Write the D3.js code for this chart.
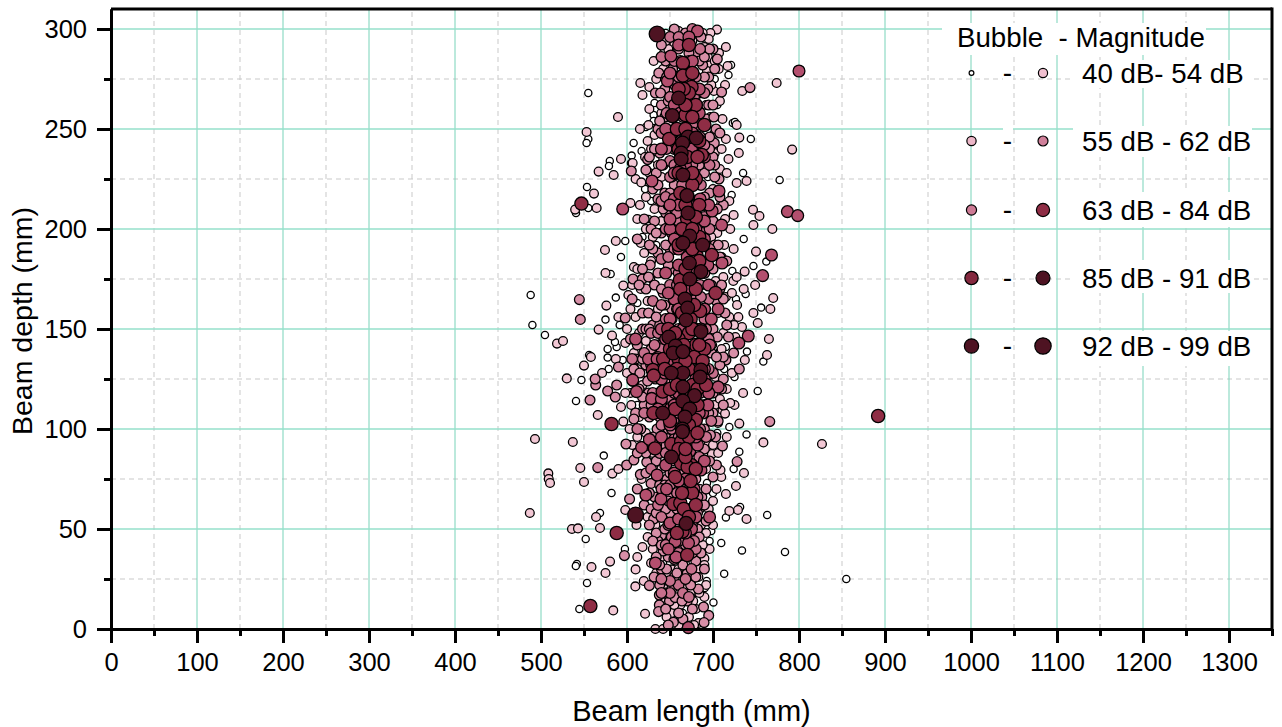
<!DOCTYPE html>
<html><head><meta charset="utf-8">
<script src="https://cdn.jsdelivr.net/npm/d3@7"></script>
<style>html,body{margin:0;padding:0;background:#fff}svg{display:block}text{font-family:"Liberation Sans",Arial,sans-serif;fill:#000;white-space:pre}</style>
</head><body><svg id="c" width="1282" height="727"></svg>
<script>
const xMajorTicks=[0,100,200,300,400,500,600,700,800,900,1000,1100,1200,1300];
const xMinorTicks=[50,150,250,350,450,550,650,750,850,950,1050,1150,1250,1350];
const yMajorTicks=[0,50,100,150,200,250,300];
const yMinorTicks=[25,75,125,175,225,275];
const xTitle="Beam length (mm)", yTitle="Beam depth (mm)";
const legendTitle="Bubble  - Magnitude";
const legendLabels=["40 dB- 54 dB","55 dB - 62 dB","63 dB - 84 dB","85 dB - 91 dB","92 dB - 99 dB"];
const legendFrom=[40,55,63,85,92];
const legendTo=[54,62,84,91,99];

const db44=[[555,268],[555,245],[553,243],[607.7,243],[617,239],[622,251],[631,257],[631,254],[721,282],[718,277],[723,253],[725.5,253.5],[744,245],[735,228],[777.5,224.5],[721.7,217],[580,234],[579,231.5],[553.5,221],[540.7,208],[555,210.5],[605.4,236.7],[604.6,233],[621,220],[488,167],[490,152],[504.6,147],[547,124.5],[556,137],[575,154.7],[587,165.7],[593,186],[581,177.5],[598,194],[591.5,152],[588,141],[586,143.5],[577.5,140],[577.5,135.7],[595,134.5],[578.7,130],[540.7,114],[735.7,195],[762,183.7],[747,181.5],[722.5,179],[738,167.5],[726.7,165],[756,160.7],[739.5,138.7],[758.5,133.7],[752,119],[719,101],[725,126],[713,130],[708,139],[700,142],[715,141],[573,86.7],[582,68],[568.6,58],[552,45],[597.6,40],[541.7,32.5],[540.5,31.5],[553.5,23],[544.6,10],[713,27.6],[709.6,43],[733.7,39.3],[783.7,38.5],[763,57],[715,55.8],[731.5,61],[724,80],[693,73],[730.6,88.6],[739,97.3],[692.7,24],[690.4,20.5],[700.5,13.3],[855,25],[618,196],[625,205],[612,163],[615,144],[620,128],[612,112],[618,100],[625,84],[693,160],[700,150],[707,132],[698,118],[705,98],[700,68],[698,49],[696,44],[690,40],[645,298],[632,263],[642,288],[702,275],[705,262],[700,232],[694,226],[633,235],[628,214],[634,192],[628,175],[640,70],[632,80],[660,25],[648,11],[665,8],[678,18],[642,26],[660,4],[650,33],[676,34]];
const db52=[[704.6,299.7],[697,298],[715,291],[707,288],[717,281.5],[706.6,280],[696.5,282],[714,272],[701,269],[734,269],[774,273],[727.5,252],[730.6,245.7],[715,245],[718,235],[730,238],[739,224],[727.5,223],[792,239.7],[719,214],[709.6,212.7],[724,207],[746.5,209.6],[754,206.5],[553,248.5],[589.5,256],[615,250],[615.5,273],[618,267],[631,284],[626,260],[567,228.7],[593,235],[584.5,227],[561.6,217.7],[539.7,209.7],[564.7,210.5],[604,213],[606.6,233],[610,225],[616.6,223.3],[518.6,142.7],[525.6,144],[530,125.3],[558,136],[550,131.7],[576,161.7],[567,149.7],[574.4,189.5],[575,178],[587,194],[595.7,171.7],[601.6,167],[608,181],[590,156],[582.6,146.7],[587,135],[571,128],[566,107],[595.7,103.7],[593,111],[750,188.7],[736.8,178.7],[723.6,174],[727.5,176],[749,172],[735.7,170],[715,166],[770,165.5],[766.7,160],[747,158],[752,153],[719,156],[729.5,156],[733.7,151],[724.4,152],[765,145],[762.8,137],[737,134.5],[735,118],[725,112],[711,109.5],[714,107.7],[730.6,102.7],[705.8,103],[747,202],[769,200],[493,95],[537,93.5],[545.7,80.5],[508.5,77.8],[509,75],[510.5,73],[583,77.7],[590,80],[550,73.5],[487,58],[564,56],[536,50],[543,50.3],[568.6,50.5],[598,59.5],[611,52],[612,36],[558.7,31],[580.3,33.7],[575,28],[610,29.8],[584,9.3],[621,7.6],[609.7,21.3],[619.5,24],[739,55],[729,59.5],[719,59],[700,64],[715,67.5],[726.7,71.5],[736,78],[709.6,76],[708.7,79.5],[698.7,87.5],[758.6,93.3],[695,92.5],[690,35.3],[690,32],[684,30],[683,26],[633,0],[642,0],[652.3,29.8],[677,14],[826.7,92.5],[660,299],[664,296],[655,292],[648,290],[676,294],[690,291],[694,286],[642,280],[650,277],[698,272],[692,262],[640,258],[648,252],[697,256],[702,248],[632,247],[628,240],[636,232],[640,226],[702,238],[708,230],[700,220],[632,210],[640,204],[622,200],[630,196],[705,198],[713,192],[698,196],[620,188],[628,184],[640,178],[703,174],[712,176],[616,170],[624,164],[636,160],[706,158],[712,148],[610,156],[614,148],[622,144],[630,138],[710,140],[703,126],[716,120],[608,138],[612,130],[618,122],[605,112],[614,106],[702,112],[700,92],[706,88],[622,98],[630,88],[640,80],[692,80],[685,70],[612,96],[640,62],[633,52],[624,46],[618,41],[630,40],[686,52],[692,48],[696,40],[682,42],[640,36],[648,28],[660,30],[675,24],[668,20],[680,10],[652,8],[662,12],[672,6],[660,2],[646,20],[690,16],[683,3],[645,294],[688,298],[695,295],[702,284],[634,275],[693,279],[626,271],[708,264],[625,252],[711,255],[624,244],[710,240],[716,228],[621,236],[626,228],[615,212],[622,216],[714,205],[720,200],[612,205],[616,193],[724,190],[710,186],[612,180],[606,172],[722,168],[728,162],[604,160],[600,150],[726,146],[598,143],[722,128],[600,128],[604,118],[720,113],[598,118],[603,100],[708,115],[716,96],[606,92],[704,70],[617,75],[695,60],[624,56],[700,52],[628,33],[688,42],[634,28],[692,22],[640,14],[684,18],[646,6],[678,2],[655,12],[668,26],[674,18],[658,22],[648,44],[656,52],[668,46],[644,66],[678,54]];
const db60=[[705,285],[710,268.5],[703.5,250],[701.5,243],[743,270.7],[637,278],[644,270],[633,268],[640,262],[647,242],[638,238],[634,228],[605,229],[622,229.5],[624,234.7],[680,288],[688,282],[695,276],[700,290],[686,296],[672,288],[670,270],[692,255],[700,236],[707,225],[696,218],[690,228],[712,212],[644,218],[636,215],[655,222],[607,175],[617.8,175],[598,155.5],[590,131],[563.6,122],[577.5,119],[588,122],[586.4,116],[557,114.5],[724,138],[715,134.5],[730.6,130],[766,103.7],[563,125],[627,182],[636,188],[622,170],[632,172],[618,158],[630,152],[612,142],[622,132],[633,125],[608,130],[610,108],[620,112],[640,198],[650,190],[654,180],[642,168],[652,160],[646,150],[636,142],[642,130],[625,118],[635,100],[645,96],[700,180],[708,170],[704,164],[714,158],[700,150],[718,146],[708,132],[698,138],[696,120],[700,108],[690,100],[678,96],[712,125],[703,96],[544.6,164.7],[545.7,154.8],[566,80.7],[599.6,82],[608,84.5],[603,65],[597,36.7],[626,21.7],[728,83.7],[704,82],[711,91.5],[697,97],[687,66],[664.6,72],[646.5,75],[628,72.8],[615.5,77.3],[598.8,92.5],[623,83.5],[640,46.7],[631,55],[620,62],[612,70],[680,75],[637.6,17],[637.6,12],[636.7,8.7],[649.4,14],[656,15.7],[670,27.8],[638,22],[631.5,26],[689,11],[695,6.8],[689.6,3.2],[654,3.4],[648,36],[642,39],[636,44],[662,40],[678,48],[684,60],[655,68],[638,72],[650,58],[690,30],[670,14],[665,32],[655,300],[668,298],[660,290],[645,284],[653,280],[684,284],[690,276],[639,268],[648,264],[684,268],[695,262],[701,256],[644,256],[636,250],[652,246],[696,246],[642,232],[652,226],[684,232],[702,226],[630,220],[650,218],[690,216],[705,210],[632,204],[645,208],[695,202],[702,192],[630,190],[645,192],[690,184],[708,186],[625,176],[640,170],[698,172],[712,165],[625,158],[638,152],[650,144],[705,146],[712,136],[618,150],[628,140],[615,128],[636,118],[700,118],[712,112],[618,116],[626,106],[642,110],[695,108],[630,96],[640,92],[650,78],[690,90],[700,76],[622,78],[632,66],[645,60],[690,62],[692,54],[628,60],[634,48],[682,50],[644,50],[658,60],[676,52],[640,30],[655,26],[670,38],[680,34],[645,10],[665,5],[676,10],[648,2],[683,20],[660,8],[612,195],[620,205],[628,200],[618,180],[606,165],[614,172],[622,150],[610,135],[604,145],[618,135],[630,128],[614,120],[624,124],[608,105],[616,100],[628,112],[634,108],[622,88],[612,88],[634,84],[644,72],[652,84],[626,68],[634,58],[626,52],[640,66],[650,68],[630,44],[640,42],[634,36],[646,30],[638,32],[645,18],[652,20],[658,28],[664,14],[674,22],[680,26],[686,38],[682,58],[692,70],[696,84],[706,104],[710,120],[704,136],[716,152],[710,172],[716,184],[706,192],[700,204],[708,216],[702,232],[696,240],[708,248],[700,262],[694,270],[702,280],[690,286],[696,290],[640,292],[646,276],[638,254],[632,240],[626,236],[636,222],[642,210],[634,198],[626,192],[636,178],[648,182],[656,170],[644,162],[634,156],[626,150],[642,146],[650,136],[636,132],[644,124],[652,104],[660,112],[648,100],[638,106],[656,92],[650,90],[664,78],[672,70],[660,70],[648,64],[656,48],[668,42],[676,38],[684,46]];
const db66=[[650,296],[668,292],[676,300],[662,284],[680,276],[656,272],[690,268],[673,262],[660,250],[682,252],[690,242],[650,234],[676,232],[640,248],[696,232],[648,212],[660,204],[680,214],[690,206],[696,190],[685,172],[640,185],[650,172],[630,164],[645,155],[660,150],[695,165],[640,140],[628,148],[620,138],[632,128],[648,116],[620,108],[640,102],[655,105],[690,112],[700,128],[695,145],[680,135],[612,100],[625,92],[638,88],[658,75],[670,68],[640,56],[652,46],[666,56],[680,40],[660,22],[650,24],[665,18],[675,30],[606,135],[607,124],[660,296],[672,284],[685,290],[640,286],[660,276],[672,274],[650,266],[665,256],[676,252],[646,258],[685,246],[655,240],[640,232],[670,224],[686,222],[650,226],[640,214],[658,208],[675,212],[688,198],[645,200],[655,190],[680,192],[660,178],[690,178],[640,162],[652,155],[668,170],[680,165],[692,150],[632,142],[645,135],[655,118],[685,118],[695,130],[630,118],[640,112],[660,108],[685,100],[645,88],[655,95],[675,78],[650,72],[628,80],[640,70],[662,66],[645,42],[672,52],[655,35],[668,25],[640,25],[660,44],[678,44],[655,284],[668,278],[678,266],[654,256],[662,244],[670,242],[680,238],[646,240],[655,232],[664,222],[690,212],[672,216],[645,216],[652,198],[668,192],[696,200],[648,186],[658,172],[676,180],[686,166],[690,155],[658,160],[636,148],[652,140],[636,136],[648,128],[628,132],[644,108],[652,100],[634,92],[660,96],[672,88],[684,86],[692,96],[698,104],[658,68],[670,60],[682,66],[636,62],[648,52],[660,38],[650,18],[672,16],[640,18]];
const db74=[[682,299],[651,286.5],[647,274],[629,224],[707,219],[699,209],[595,210],[710,202],[710.5,183],[706,160],[706,121],[757.7,176.7],[768,187],[741,146.5],[730,143],[606.6,124.5],[611,118.7],[628.7,115.3],[696,56],[686,79.5],[673,89],[617,90.8],[626,94.8],[622,67],[639.5,65],[650,53],[656,43.7],[671.5,43],[657,36],[633,33],[671.3,0.7],[800,279],[786.5,208.7],[798.5,206.7],[670,280],[655,262],[684,258],[675,240],[640,240],[655,215],[680,200],[650,200],[670,186],[645,178],[690,160],[655,165],[640,150],[675,170],[655,128],[640,125],[675,100],[650,110],[690,125],[660,85],[635,77],[665,100],[675,60],[625,135],[610,145],[660,292],[672,296],[676,284],[650,278],[684,270],[662,258],[645,250],[690,236],[668,232],[655,228],[685,215],[695,212],[660,212],[650,205],[690,195],[655,195],[660,182],[680,178],[695,172],[650,155],[665,150],[680,150],[698,155],[645,145],[635,135],[660,125],[680,125],[695,118],[640,115],[655,112],[688,108],[668,95],[682,92],[645,82],[655,78],[668,75],[660,55],[675,50],[648,40],[664,270],[676,248],[662,230],[650,212],[672,210],[690,204],[660,190],[682,184],[694,182],[648,168],[660,160],[686,150],[696,142],[650,134],[670,140],[690,130],[644,128],[660,118],[672,120],[694,112],[680,96],[650,102],[640,96],[655,88],[690,84],[678,70],[660,74],[646,70],[668,48],[680,56],[684,108],[636,110]];
const db84=[[665,283],[665,276.7],[675,271],[668,257],[649,245],[687,237],[547,212.7],[703,168],[698.6,187],[681,186.5],[661.6,174.5],[685,159],[630,129.5],[631,126.7],[641.5,118.7],[630.7,108],[680,104.5],[582,102.5],[892,106.5],[588,48],[557.4,11.5],[664.5,48.7],[670,37],[632.5,90.3],[651.6,92.5],[663,93.7],[663,82.8],[674.5,82],[670.5,81],[680,80],[675.8,68],[654,62.5],[662,63],[680,262],[672,268],[690,252],[680,225],[670,205],[660,240],[674,155],[660,135],[650,120],[680,142],[668,118],[690,140],[648,150],[676,278],[668,262],[658,250],[676,222],[684,212],[664,200],[672,148],[660,145],[642,135],[672,292],[666,270],[676,256],[684,244],[670,236],[676,228],[662,218],[680,206],[684,196],[676,190],[668,180],[680,170],[664,158],[678,162],[656,148],[666,142],[678,136],[688,134],[672,130],[658,122],[676,122],[656,110],[682,112],[672,102],[660,90],[668,86],[674,74],[666,60],[672,56],[660,270],[668,250],[682,236],[660,228],[668,212],[676,200],[660,192],[684,184],[662,170],[676,150],[684,142],[650,140],[644,130],[668,134],[658,130],[682,120],[692,122],[650,104],[672,96],[682,98],[668,90],[656,76],[664,68],[680,62],[658,48]];
const db90=[[660,265.5],[652.7,256.7],[671,246],[680.6,245.5],[664.6,243],[663,238],[663,235],[665,227],[669.7,216.7],[671,208],[688,192],[673,196.5],[665,193],[672.5,183],[686,178.7],[673,175],[667.4,165],[670.5,160.5],[668.6,154.5],[686,148.7],[648.7,146],[656.4,141.5],[653.7,138],[665,138.7],[665,128],[686,129.5],[685,126],[651.5,128],[665,121],[678.5,116.7],[665,114],[673,110],[667.4,106],[664.5,100],[641.5,108],[664.5,98.7],[651.6,86],[668.7,52.8]];
const db97=[[635,297.5],[610,57]];
const magnitudeLevels=[44,52,60,66,74,84,90,97];
const levelPoints=[db44,db52,db60,db66,db74,db84,db90,db97];

const svg=d3.select("#c");
const x=d3.scaleLinear().domain([0,1350]).range([111,1272]);
const y=d3.scaleLinear().domain([0,310]).range([629,9]);
const r=d3.scaleLinear().domain([40,44,54,62,74,84,91,97]).range([2.4,3.6,4.6,5,5.9,6.6,7,7.9]);
const color=d3.scaleLinear().domain([40,46,48,54,62,74,84,90,99])
  .range(["#ffffff","#ffffff","#f6d6df","#f0bfcf","#cf7f99","#b34f6e","#8f2d45","#4e1322","#4e1322"]);

const grid=svg.append("g");
yMinorTicks.forEach(v=>grid.append("line").attr("x1",x(0)).attr("x2",x(1350)).attr("y1",y(v)).attr("y2",y(v)).attr("stroke","#c9c9c9").attr("stroke-width",1).attr("stroke-dasharray","5 4"));
xMinorTicks.forEach(v=>grid.append("line").attr("x1",x(v)).attr("x2",x(v)).attr("y1",y(0)).attr("y2",y(310)).attr("stroke","#c9c9c9").attr("stroke-width",1).attr("stroke-dasharray","5 4"));
xMajorTicks.filter(v=>v>0).forEach(v=>grid.append("line").attr("x1",x(v)).attr("x2",x(v)).attr("y1",y(0)).attr("y2",y(310)).attr("stroke","#78d3b9").attr("stroke-width",1));
yMajorTicks.filter(v=>v>0).forEach(v=>grid.append("line").attr("x1",x(0)).attr("x2",x(1350)).attr("y1",y(v)).attr("y2",y(v)).attr("stroke","#96e0cb").attr("stroke-width",1.5));

const mask=svg.append("g").attr("fill","#fff");
mask.append("rect").attr("x",942).attr("y",23).attr("width",264).attr("height",32);
[[60,28],[126,31],[192,35],[260,33],[331,35]].forEach(b=>{
  mask.append("rect").attr("x",1073).attr("y",b[0]).attr("width",179).attr("height",b[1]);
  mask.append("rect").attr("x",1003).attr("y",b[0]+2).attr("width",10).attr("height",b[1]-4);
});

const marks=svg.append("g");
levelPoints.forEach((pts,i)=>{
  const m=magnitudeLevels[i];
  marks.append("g").selectAll("circle").data(pts).join("circle")
    .attr("cx",d=>x(d[0])).attr("cy",d=>y(d[1])).attr("r",r(m))
    .attr("fill",color(m)).attr("stroke","#000").attr("stroke-width",1.3);
});

const frame=svg.append("g");
frame.append("line").attr("x1",x(0)).attr("x2",x(1350)).attr("y1",y(310)).attr("y2",y(310)).attr("stroke","#000").attr("stroke-width",3);
frame.append("line").attr("x1",x(1350)).attr("x2",x(1350)).attr("y1",y(310)-1.5).attr("y2",y(0)).attr("stroke","#000").attr("stroke-width",3);

function styleAxis(g){g.selectAll("line").attr("stroke","#000").attr("stroke-width",3);g.select(".domain").attr("stroke","#000").attr("stroke-width",3);
  g.selectAll("text").style("font-family",'"Liberation Sans",Arial,sans-serif').style("font-size","25.5px").attr("fill","#000");}
const fmt=d3.format("d");
svg.append("g").attr("transform",`translate(0,${y(0)})`).call(d3.axisBottom(x).tickValues(xMinorTicks).tickSize(7).tickSizeOuter(0).tickFormat("")).call(styleAxis);
svg.append("g").attr("transform",`translate(${x(0)},0)`).call(d3.axisLeft(y).tickValues(yMinorTicks).tickSize(7).tickSizeOuter(0).tickFormat("")).call(styleAxis);
svg.append("g").attr("transform",`translate(0,${y(0)})`).call(d3.axisBottom(x).tickValues(xMajorTicks).tickSize(14).tickSizeOuter(0).tickPadding(10).tickFormat(fmt)).call(styleAxis);
svg.append("g").attr("transform",`translate(${x(0)},0)`).call(d3.axisLeft(y).tickValues(yMajorTicks).tickSize(14).tickSizeOuter(0).tickPadding(10).tickFormat(fmt)).call(styleAxis);

svg.append("text").attr("x",691.5).attr("y",721).attr("text-anchor","middle").style("font-size","29px").text(xTitle);
svg.append("text").attr("transform","translate(32,321) rotate(-90)").attr("text-anchor","middle").style("font-size","28.5px").text(yTitle);

const legend=svg.append("g");
legend.append("text").attr("x",957).attr("y",47).style("font-size","27.7px").text(legendTitle);
const rowY=[73,141,210,278,346];
legendLabels.forEach((t,i)=>{
  legend.append("circle").attr("cx",971.5).attr("cy",rowY[i]).attr("r",r(legendFrom[i])).attr("fill",color(legendFrom[i])).attr("stroke","#000").attr("stroke-width",1.2);
  legend.append("circle").attr("cx",1043).attr("cy",rowY[i]).attr("r",r(legendTo[i])).attr("fill",color(legendTo[i])).attr("stroke","#000").attr("stroke-width",1.2);
  legend.append("text").attr("x",1007.5).attr("y",rowY[i]+9).attr("text-anchor","middle").style("font-size","28px").text("-");
  legend.append("text").attr("x",1082).attr("y",rowY[i]+10).style("font-size","27.7px").text(t);
});
</script></body></html>
